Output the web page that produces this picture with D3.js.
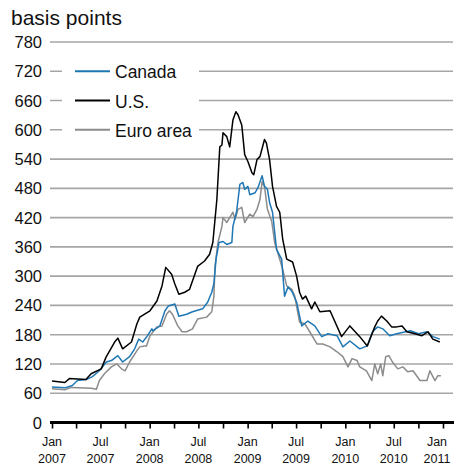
<!DOCTYPE html>
<html><head><meta charset="utf-8">
<script src="https://cdn.jsdelivr.net/npm/d3@7"></script>
<style>body{margin:0;background:#fff}svg{display:block}text{font-family:"Liberation Sans",Arial,Helvetica,sans-serif;fill:#111}</style>
</head><body><svg id="c" width="454" height="465"></svg>
<script>
const yTicks = [0,60,120,180,240,300,360,420,480,540,600,660,720,780];
const xTickLabels = [["Jan","2007"],["Jul","2007"],["Jan","2008"],["Jul","2008"],["Jan","2009"],["Jul","2009"],["Jan","2010"],["Jul","2010"],["Jan","2011"]];
const seriesNames = ["Canada","U.S.","Euro area"];
const seriesColors = ["#1f77b4","#000000","#8c8c8c"];

const us = [["2007-01-01",85],["2007-02-18",82],["2007-03-07",90],["2007-05-08",88],["2007-05-27",100],["2007-07-04",110],["2007-07-22",134],["2007-08-23",165],["2007-09-04",173],["2007-09-22",151],["2007-10-25",165],["2007-11-14",202],["2007-11-25",216],["2008-01-02",229],["2008-01-28",249],["2008-02-16",280],["2008-03-01",318],["2008-03-23",304],["2008-04-04",284],["2008-04-19",263],["2008-05-11",267],["2008-05-29",273],["2008-06-28",320],["2008-07-24",331],["2008-08-12",345],["2008-08-24",369],["2008-09-08",457],["2008-09-19",565],["2008-09-27",569],["2008-10-01",594],["2008-10-15",586],["2008-10-26",565],["2008-11-07",620],["2008-11-18",637],["2008-11-26",631],["2008-12-10",610],["2008-12-21",549],["2009-01-02",535],["2009-01-17",512],["2009-01-24",508],["2009-02-05",539],["2009-02-16",545],["2009-03-05",580],["2009-03-12",573],["2009-03-24",539],["2009-04-04",484],["2009-04-19",443],["2009-05-01",431],["2009-05-12",376],["2009-05-27",335],["2009-06-18",329],["2009-07-03",300],["2009-07-14",267],["2009-07-25",253],["2009-08-06",259],["2009-08-28",233],["2009-09-09",247],["2009-09-28",227],["2009-11-05",229],["2009-12-18",176],["2010-01-18",198],["2010-02-24",176],["2010-03-24",157],["2010-04-21",196],["2010-05-02",208],["2010-05-16",218],["2010-06-05",208],["2010-06-23",196],["2010-07-12",196],["2010-08-01",198],["2010-08-19",186],["2010-09-18",182],["2010-10-14",178],["2010-11-06",186],["2010-11-24",171],["2010-12-20",165]];

const canada = [["2007-01-01",73],["2007-02-18",71],["2007-03-18",76],["2007-04-06",86],["2007-05-09",88],["2007-06-01",94],["2007-06-27",106],["2007-07-23",124],["2007-08-11",127],["2007-09-04",137],["2007-09-22",124],["2007-10-18",135],["2007-11-06",151],["2007-11-21",171],["2007-12-06",165],["2007-12-24",178],["2008-01-09",192],["2008-01-13",188],["2008-02-08",198],["2008-02-27",229],["2008-03-11",239],["2008-04-04",243],["2008-04-19",218],["2008-05-18",222],["2008-06-09",227],["2008-07-17",233],["2008-08-05",247],["2008-08-20",267],["2008-08-28",285],["2008-09-05",335],["2008-09-16",369],["2008-10-01",371],["2008-10-15",365],["2008-11-03",369],["2008-11-07",402],["2008-11-21",433],["2008-12-03",488],["2008-12-14",492],["2008-12-21",478],["2009-01-02",484],["2009-01-09",467],["2009-01-29",471],["2009-02-09",482],["2009-02-24",506],["2009-03-05",484],["2009-03-16",478],["2009-03-24",451],["2009-04-04",431],["2009-04-19",355],["2009-05-08",335],["2009-05-19",259],["2009-06-01",278],["2009-06-15",269],["2009-07-03",247],["2009-07-22",198],["2009-08-14",208],["2009-09-09",198],["2009-10-05",176],["2009-10-28",182],["2009-12-01",178],["2009-12-23",155],["2010-01-18",167],["2010-02-24",151],["2010-03-24",157],["2010-04-13",186],["2010-05-02",196],["2010-05-21",192],["2010-06-16",178],["2010-07-12",182],["2010-09-01",188],["2010-10-01",182],["2010-11-02",186],["2010-11-24",176],["2010-12-20",171]];

const euro = [["2007-01-01",69],["2007-02-18",67],["2007-03-14",72],["2007-05-28",70],["2007-06-16",68],["2007-06-27",86],["2007-07-16",100],["2007-08-11",114],["2007-08-31",120],["2007-09-18",110],["2007-10-01",106],["2007-10-18",124],["2007-11-14",147],["2007-11-25",155],["2007-12-13",157],["2007-12-20",157],["2008-01-02",178],["2008-01-28",196],["2008-02-16",198],["2008-03-04",222],["2008-03-15",229],["2008-03-26",222],["2008-04-15",198],["2008-05-01",186],["2008-05-18",186],["2008-06-09",192],["2008-06-28",212],["2008-08-01",216],["2008-08-20",227],["2008-08-28",259],["2008-09-01",320],["2008-09-12",369],["2008-09-27",402],["2008-10-01",420],["2008-10-15",410],["2008-10-26",420],["2008-11-07",431],["2008-11-15",416],["2008-11-26",437],["2008-12-10",441],["2008-12-21",410],["2009-01-09",427],["2009-01-21",422],["2009-02-05",437],["2009-02-16",457],["2009-02-24",494],["2009-03-05",484],["2009-03-16",437],["2009-04-01",412],["2009-04-12",369],["2009-04-23",349],["2009-05-12",314],["2009-05-27",280],["2009-06-15",273],["2009-06-26",259],["2009-07-14",206],["2009-08-03",202],["2009-08-21",186],["2009-09-17",161],["2009-10-09",161],["2009-11-05",155],["2009-12-01",145],["2009-12-23",135],["2010-01-11",114],["2010-01-26",131],["2010-02-14",127],["2010-02-24",114],["2010-03-21",106],["2010-04-10",86],["2010-04-21",120],["2010-05-02",100],["2010-05-13",120],["2010-05-21",96],["2010-06-01",135],["2010-06-13",137],["2010-06-26",124],["2010-07-16",110],["2010-08-04",114],["2010-08-22",104],["2010-09-11",106],["2010-10-07",86],["2010-11-02",86],["2010-11-13",106],["2010-12-02",86],["2010-12-13",96],["2010-12-24",96]];

const parse = d3.timeParse("%Y-%m-%d");
const svg = d3.select("#c");
const x = d3.scaleTime().domain([parse("2007-01-01"), parse("2011-01-01")]).range([52, 443]);
const y = d3.scaleLinear().domain([0, 780]).range([422.5, 42]);

// title
svg.append("text").attr("x", 11).attr("y", 25).attr("font-size", 21).text("basis points");

// gridlines
svg.append("g").selectAll("line").data(yTicks.filter(v => v > 0)).join("line")
  .attr("x1", 50).attr("x2", 453).attr("y1", d => y(d)).attr("y2", d => y(d))
  .attr("stroke", "#a6a6a6").attr("stroke-width", 1.6);

// y labels
svg.append("g").selectAll("text").data(yTicks).join("text")
  .attr("x", 42).attr("y", d => y(d) + 6).attr("text-anchor", "end").attr("font-size", 16.5)
  .text(d => d);

// x axis
const xAxis = d3.axisBottom(x).ticks(d3.timeMonth.every(3)).tickSize(6).tickFormat("");
const gx = svg.append("g").attr("transform", `translate(0,${y(0)})`).call(xAxis);
gx.select(".domain").remove();
gx.selectAll(".tick line").attr("stroke", "#000").attr("stroke-width", 1.6);
svg.append("line").attr("x1", 50).attr("x2", 454).attr("y1", y(0)).attr("y2", y(0))
  .attr("stroke", "#000").attr("stroke-width", 3.2);

const labelDates = d3.timeMonth.every(6).range(parse("2007-01-01"), parse("2011-01-02"));
const lx = d => Math.min(x(d), 437);
const gl = svg.append("g").selectAll("text").data(labelDates).join("text")
  .attr("x", lx).attr("text-anchor", "middle").attr("font-size", 12.5);
gl.append("tspan").attr("x", lx).attr("y", 446).text((d, i) => xTickLabels[i][0]);
gl.append("tspan").attr("x", lx).attr("y", 463).text((d, i) => xTickLabels[i][1]);

// lines
const line = d3.line().x(d => x(parse(d[0]))).y(d => y(d[1]));
const order = [[euro, 2], [canada, 0], [us, 1]];
order.forEach(([data, i]) => {
  svg.append("path").datum(data).attr("d", line).attr("fill", "none")
    .attr("stroke", seriesColors[i]).attr("stroke-width", 1.5).attr("stroke-linejoin", "round");
});

// legend
svg.append("rect").attr("x", 62).attr("y", 58).attr("width", 137).attr("height", 80).attr("fill", "#fff");
const lg = svg.append("g").selectAll("g").data(seriesNames).join("g")
  .attr("transform", (d, i) => `translate(0,${y(720 - 60 * i)})`);
lg.append("line").attr("x1", 75).attr("x2", 110).attr("stroke", (d, i) => seriesColors[i]).attr("stroke-width", 2);
lg.append("text").attr("x", 115).attr("y", 7).attr("font-size", 17.5).text(d => d);
</script></body></html>
